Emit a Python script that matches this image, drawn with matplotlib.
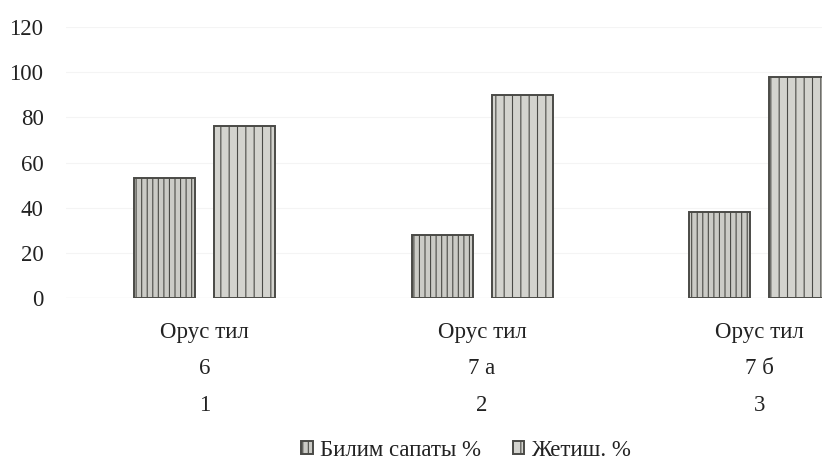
import numpy as np
import matplotlib
matplotlib.use("Agg")
from matplotlib import pyplot as plt

subjects = ["Орус тил", "Орус тил", "Орус тил"]
classes = ["6", "7 а", "7 б"]
numbers = ["1", "2", "3"]
quality = [53, 28, 38]      # Билим сапаты %
success = [76, 90, 98]      # Жетиш. %
series_names = ["Билим сапаты %", "Жетиш. %"]
yticks = [0, 20, 40, 60, 80, 100, 120]

plt.rcParams['font.family'] = ['Liberation Serif', 'DejaVu Serif']
plt.rcParams['hatch.color'] = '#8c8c88'
plt.rcParams['hatch.linewidth'] = 0.8

fig = plt.figure(figsize=(8.22, 4.75), dpi=100)
# axes run past the right edge, like the cropped scan
ax = fig.add_axes([0.080, 0.3726, 1.013, 0.5705])

x = np.arange(len(subjects))
w = 0.22
off = 0.144
b1 = ax.bar(x - off, quality, w, color='#cbcbc6', edgecolor='#4a4a46',
            linewidth=1.4, hatch='|||', label=series_names[0])
b2 = ax.bar(x + off, success, w, color='#d3d3ce', edgecolor='#4a4a46',
            linewidth=1.4, hatch='||', label=series_names[1])

fs = 16.5
ax.set_xlim(-0.5, 2.5)
ax.set_ylim(0, 120)
ax.set_yticks(yticks)
ax.tick_params(axis='y', length=0, pad=16, labelsize=fs, labelcolor='#222222')
ax.set_xticks(x)
ax.set_xticklabels([s + "\n" + c + "\n" + n for s, c, n in zip(subjects, classes, numbers)],
                   linespacing=1.97)
ax.tick_params(axis='x', length=0, pad=17, labelsize=fs, labelcolor='#222222')

ax.grid(axis='y', color='#f4f4f4', linewidth=0.8)
ax.set_axisbelow(True)
ax.axhline(0, color='#d8d8d8', linewidth=0.8, zorder=0)
for sp in ax.spines.values():
    sp.set_visible(False)

fig.legend(handles=[b1, b2], labels=series_names, loc='center',
           bbox_to_anchor=(466 / 822, 1 - 450 / 475), ncol=2, frameon=False,
           fontsize=fs, handlelength=0.5, handleheight=0.5, handletextpad=0.3,
           columnspacing=1.4, labelcolor='#222222')

fig.savefig("out.png", dpi=100)
